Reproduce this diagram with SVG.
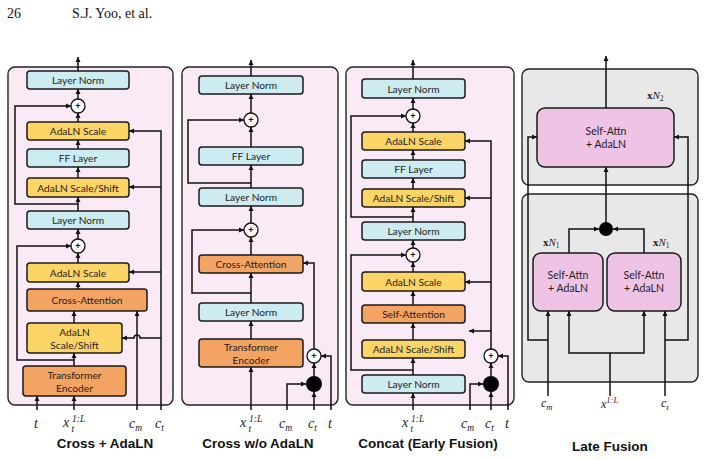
<svg xmlns="http://www.w3.org/2000/svg" width="704" height="460" viewBox="0 0 704 460">
<defs>
<marker id="a" markerUnits="userSpaceOnUse" markerWidth="6" markerHeight="6" refX="5" refY="3" orient="auto">
<path d="M0,0.5 L5,3 L0,5.5 z" fill="#111"/>
</marker>
<style>
.panel{fill:#f9eaf5;stroke:#222;stroke-width:1.4}
.gray{fill:#e8e8e8;stroke:#222;stroke-width:1.4}
.box{stroke:#1a1a1a;stroke-width:1.5}
.ln{fill:#cdecf1}
.ada{fill:#fdd466}
.org{fill:#f3a362}
.pk{fill:#eec3e6}
.bt{font-family:Lato,"Open Sans",sans-serif;font-size:10.2px;fill:#1e1e1e;text-anchor:middle;dominant-baseline:central}
.bt9{font-family:Lato,"Open Sans",sans-serif;font-size:10.5px;fill:#1e1e1e;text-anchor:middle}
.c{fill:#fff;stroke:#111;stroke-width:1.3}
.pt{font-family:"Liberation Sans",Arial,sans-serif;font-size:9px;font-weight:bold;fill:#111;text-anchor:middle;dominant-baseline:central}
.dot{fill:#000}
.w{fill:none;stroke:#111;stroke-width:1.5}
.ar{marker-end:url(#a)}
.m{font-family:"Liberation Serif","Times New Roman",serif;font-style:italic;font-size:14px;fill:#222}
.sm{font-size:9.5px}
.title{font-family:"Liberation Sans",Arial,sans-serif;font-weight:bold;font-size:13.5px;fill:#111;text-anchor:middle}
.hdr{font-family:"Liberation Serif","Times New Roman",serif;font-size:14px;fill:#111}
</style>
</defs>
<rect width="704" height="460" fill="#fff"/>
<text class="hdr" x="7" y="18">26</text>
<text class="hdr" x="72" y="18">S.J. Yoo, et al.</text>

<!-- panel backgrounds -->
<rect class="panel" x="8" y="67" width="165" height="338" rx="7"/>
<rect class="panel" x="182" y="67" width="156" height="338" rx="7"/>
<rect class="panel" x="346" y="67" width="168" height="338" rx="7"/>
<rect class="gray" x="522" y="69" width="176" height="116" rx="7"/>
<rect class="gray" x="522" y="194" width="176" height="188" rx="7"/>

<!-- Panel 1: Cross + AdaLN -->
<g id="p1-ln1"><rect class="box ln" x="27" y="71" width="102" height="18" rx="3"/><text class="bt" x="78" y="80">Layer Norm</text></g>
<g id="p1-add1"><circle class="c" cx="78" cy="106" r="7"/><text class="pt" x="78" y="106">+</text></g>
<g id="p1-scale1"><rect class="box ada" x="27" y="122" width="102" height="18" rx="3"/><text class="bt" x="78" y="131">AdaLN Scale</text></g>
<g id="p1-ff"><rect class="box ln" x="27" y="149" width="102" height="18" rx="3"/><text class="bt" x="78" y="158">FF Layer</text></g>
<g id="p1-ss1"><rect class="box ada" x="27" y="178" width="102" height="19" rx="3"/><text class="bt" x="78" y="187.5">AdaLN Scale/Shift</text></g>
<g id="p1-ln2"><rect class="box ln" x="27" y="211" width="102" height="18" rx="3"/><text class="bt" x="78" y="220">Layer Norm</text></g>
<g id="p1-add2"><circle class="c" cx="78" cy="246" r="7"/><text class="pt" x="78" y="246">+</text></g>
<g id="p1-scale2"><rect class="box ada" x="27" y="263" width="102" height="19" rx="3"/><text class="bt" x="78" y="272.5">AdaLN Scale</text></g>
<g id="p1-ca"><rect class="box org" x="27" y="289" width="120" height="22" rx="3"/><text class="bt" x="87" y="300">Cross-Attention</text></g>
<g id="p1-ss2"><rect class="box ada" x="27" y="323" width="95" height="30" rx="3"/><text class="bt" x="74.5" y="331.5">AdaLN</text><text class="bt" x="74.5" y="345">Scale/Shift</text></g>
<g id="p1-te"><rect class="box org" x="23" y="366" width="103" height="30" rx="3"/><text class="bt" x="74.5" y="374.5">Transformer</text><text class="bt" x="74.5" y="388">Encoder</text></g>

<!-- Panel 2: Cross w/o AdaLN -->
<g id="p2-ln1"><rect class="box ln" x="199" y="76" width="104" height="18" rx="3"/><text class="bt" x="251" y="85">Layer Norm</text></g>
<g id="p2-add1"><circle class="c" cx="251" cy="120" r="7"/><text class="pt" x="251" y="120">+</text></g>
<g id="p2-ff"><rect class="box ln" x="199" y="147" width="104" height="18" rx="3"/><text class="bt" x="251" y="156">FF Layer</text></g>
<g id="p2-ln2"><rect class="box ln" x="199" y="188" width="104" height="18" rx="3"/><text class="bt" x="251" y="197">Layer Norm</text></g>
<g id="p2-add2"><circle class="c" cx="251" cy="230" r="7"/><text class="pt" x="251" y="230">+</text></g>
<g id="p2-ca"><rect class="box org" x="199" y="255" width="104" height="18" rx="3"/><text class="bt" x="251" y="264">Cross-Attention</text></g>
<g id="p2-ln3"><rect class="box ln" x="199" y="303" width="104" height="18" rx="3"/><text class="bt" x="251" y="312">Layer Norm</text></g>
<g id="p2-te"><rect class="box org" x="199" y="339" width="104" height="28" rx="3"/><text class="bt" x="251" y="347">Transformer</text><text class="bt" x="251" y="360">Encoder</text></g>
<g id="p2-add3"><circle class="c" cx="314" cy="356" r="7"/><text class="pt" x="314" y="356">+</text></g>
<g id="p2-cat"><circle class="dot" cx="314" cy="384" r="8"/></g>

<!-- Panel 3: Concat -->
<g id="p3-ln1"><rect class="box ln" x="362" y="79" width="103" height="19" rx="3"/><text class="bt" x="413.5" y="88.5">Layer Norm</text></g>
<g id="p3-add1"><circle class="c" cx="413" cy="116" r="7"/><text class="pt" x="413" y="116">+</text></g>
<g id="p3-scale1"><rect class="box ada" x="362" y="132" width="103" height="18" rx="3"/><text class="bt" x="413.5" y="141">AdaLN Scale</text></g>
<g id="p3-ff"><rect class="box ln" x="362" y="160" width="103" height="18" rx="3"/><text class="bt" x="413.5" y="169">FF Layer</text></g>
<g id="p3-ss1"><rect class="box ada" x="362" y="189" width="103" height="18" rx="3"/><text class="bt" x="413.5" y="198">AdaLN Scale/Shift</text></g>
<g id="p3-ln2"><rect class="box ln" x="362" y="222" width="103" height="18" rx="3"/><text class="bt" x="413.5" y="231">Layer Norm</text></g>
<g id="p3-add2"><circle class="c" cx="413" cy="255" r="7"/><text class="pt" x="413" y="255">+</text></g>
<g id="p3-scale2"><rect class="box ada" x="362" y="272" width="103" height="19" rx="3"/><text class="bt" x="413.5" y="281.5">AdaLN Scale</text></g>
<g id="p3-sa"><rect class="box org" x="362" y="305" width="103" height="18" rx="3"/><text class="bt" x="413.5" y="314">Self-Attention</text></g>
<g id="p3-ss2"><rect class="box ada" x="362" y="340" width="103" height="18" rx="3"/><text class="bt" x="413.5" y="349">AdaLN Scale/Shift</text></g>
<g id="p3-ln3"><rect class="box ln" x="362" y="375" width="103" height="18" rx="3"/><text class="bt" x="413.5" y="384">Layer Norm</text></g>
<g id="p3-add3"><circle class="c" cx="491" cy="356" r="7"/><text class="pt" x="491" y="356">+</text></g>
<g id="p3-cat"><circle class="dot" cx="491" cy="384" r="8"/></g>

<!-- Panel 4: Late Fusion -->
<g id="p4-top"><rect class="box pk" x="537" y="108" width="137" height="59" rx="8"/><text class="bt9" x="606" y="135">Self-Attn</text><text class="bt9" x="606" y="148">+ AdaLN</text></g>
<g id="p4-left"><rect class="box pk" x="533" y="253" width="70" height="58" rx="8"/><text class="bt9" x="568" y="279">Self-Attn</text><text class="bt9" x="568" y="292">+ AdaLN</text></g>
<g id="p4-right"><rect class="box pk" x="607" y="253" width="74" height="58" rx="8"/><text class="bt9" x="644" y="279">Self-Attn</text><text class="bt9" x="644" y="292">+ AdaLN</text></g>
<g id="p4-cat"><circle class="dot" cx="606" cy="229" r="7"/></g>
<text class="m" x="647" y="99" style="font-size:11px"><tspan style="font-style:normal;font-weight:bold">x</tspan>N<tspan style="font-style:normal;font-size:7.5px" dy="2">2</tspan></text>
<text class="m" x="543" y="246" style="font-size:11px"><tspan style="font-style:normal;font-weight:bold">x</tspan>N<tspan style="font-style:normal;font-size:7.5px" dy="2">1</tspan></text>
<text class="m" x="653" y="246" style="font-size:11px"><tspan style="font-style:normal;font-weight:bold">x</tspan>N<tspan style="font-style:normal;font-size:7.5px" dy="2">1</tspan></text>

<!-- Connectors -->
<g id="connectors" class="w">
<!-- panel 1 -->
<path class="ar" d="M78,71 V57"/>
<path class="ar" d="M78,99 V89"/>
<path class="ar" d="M78,122 V113"/>
<path class="ar" d="M78,149 V140"/>
<path class="ar" d="M78,178 V167"/>
<path class="ar" d="M78,211 V197"/>
<path class="ar" d="M78,204 H15 V106 H71"/>
<path class="ar" d="M78,239 V229"/>
<path class="ar" d="M78,263 V253"/>
<path class="ar" d="M78,289 V282"/>
<path class="ar" d="M74,323 V311"/>
<path class="ar" d="M74,366 V353"/>
<path class="ar" d="M74,360 H17 V246 H71"/>
<path class="ar" d="M37,410 V396"/>
<path class="ar" d="M74,410 V396"/>
<path class="ar" d="M137,410 V311"/>
<path class="ar" d="M161,410 V131 H129"/>
<path class="ar" d="M161,187 H129"/>
<path class="ar" d="M161,272 H129"/>
<path class="ar" d="M161,338 H140 A3,3 0 0 0 134,338 H122"/>
<!-- panel 2 -->
<path class="ar" d="M251,76 V60"/>
<path class="ar" d="M251,113 V94"/>
<path class="ar" d="M251,147 V127"/>
<path class="ar" d="M251,188 V165"/>
<path class="ar" d="M251,183 H188 V120 H244"/>
<path class="ar" d="M251,223 V206"/>
<path class="ar" d="M251,255 V237"/>
<path class="ar" d="M251,303 V273"/>
<path class="ar" d="M251,293 H192 V230 H244"/>
<path class="ar" d="M251,339 V321"/>
<path class="ar" d="M251,410 V367"/>
<path class="ar" d="M314,349 V263 H303"/>
<path class="ar" d="M314,376 V363"/>
<path class="ar" d="M287,410 V384 H306"/>
<path class="ar" d="M314,410 V392"/>
<path class="ar" d="M331,410 V356 H321"/>
<!-- panel 3 -->
<path class="ar" d="M413,79 V60"/>
<path class="ar" d="M413,109 V98"/>
<path class="ar" d="M413,132 V123"/>
<path class="ar" d="M413,160 V150"/>
<path class="ar" d="M413,189 V178"/>
<path class="ar" d="M413,222 V207"/>
<path class="ar" d="M413,217 H351 V116 H406"/>
<path class="ar" d="M413,248 V240"/>
<path class="ar" d="M413,272 V262"/>
<path class="ar" d="M413,305 V291"/>
<path class="ar" d="M413,340 V323"/>
<path class="ar" d="M413,375 V358"/>
<path class="ar" d="M413,370 H351 V255 H406"/>
<path class="ar" d="M413,410 V393"/>
<path class="ar" d="M491,349 V141 H465"/>
<path class="ar" d="M491,198 H465"/>
<path class="ar" d="M491,282 H465"/>
<path class="ar" d="M491,331 H469"/>
<path class="ar" d="M491,376 V363"/>
<path class="ar" d="M470,410 V384 H483"/>
<path class="ar" d="M491,410 V392"/>
<path class="ar" d="M508,410 V356 H498"/>
<!-- panel 4 -->
<path class="ar" d="M606,108 V56"/>
<path class="ar" d="M606,222 V167"/>
<path class="ar" d="M569,253 V229 H599"/>
<path class="ar" d="M644,253 V229 H613"/>
<path class="ar" d="M548,396 V311"/>
<path class="ar" d="M548,340 H528 V137 H537"/>
<path class="ar" d="M665,396 V311"/>
<path class="ar" d="M665,340 H688 V137 H674"/>
<path d="M610,396 V353"/>
<path class="ar" d="M610,353 H569 V311"/>
<path class="ar" d="M610,353 H644 V311"/>
</g>

<!-- Input labels -->
<text class="m" x="34" y="428">t</text>
<text class="m"><tspan x="63" y="427">x</tspan><tspan class="sm" x="72" y="422">1:L</tspan><tspan class="sm" x="71.5" y="432">t</tspan></text>
<text class="m" x="129" y="428">c<tspan class="sm" dy="3">m</tspan></text>
<text class="m" x="155" y="428">c<tspan class="sm" dy="3">t</tspan></text>

<text class="m"><tspan x="240" y="427">x</tspan><tspan class="sm" x="249" y="422">1:L</tspan><tspan class="sm" x="248.5" y="432">t</tspan></text>
<text class="m" x="279" y="428">c<tspan class="sm" dy="3">m</tspan></text>
<text class="m" x="308" y="428">c<tspan class="sm" dy="3">t</tspan></text>
<text class="m" x="328" y="428">t</text>

<text class="m"><tspan x="402" y="427">x</tspan><tspan class="sm" x="411" y="422">1:L</tspan><tspan class="sm" x="410.5" y="432">t</tspan></text>
<text class="m" x="461" y="428">c<tspan class="sm" dy="3">m</tspan></text>
<text class="m" x="485" y="428">c<tspan class="sm" dy="3">t</tspan></text>
<text class="m" x="505" y="428">t</text>

<text class="m" x="541" y="407" style="font-size:12px">c<tspan style="font-size:8.5px" dy="3">m</tspan></text>
<text class="m" x="601" y="408" style="font-size:12px">x<tspan style="font-size:8.5px" dy="-5">1:L</tspan></text>
<text class="m" x="661" y="407" style="font-size:12px">c<tspan style="font-size:8.5px" dy="3">t</tspan></text>

<!-- Titles -->
<text class="title" x="105" y="448">Cross + AdaLN</text>
<text class="title" x="258" y="448">Cross w/o AdaLN</text>
<text class="title" x="428" y="448">Concat (Early Fusion)</text>
<text class="title" x="610" y="451">Late Fusion</text>
</svg>
